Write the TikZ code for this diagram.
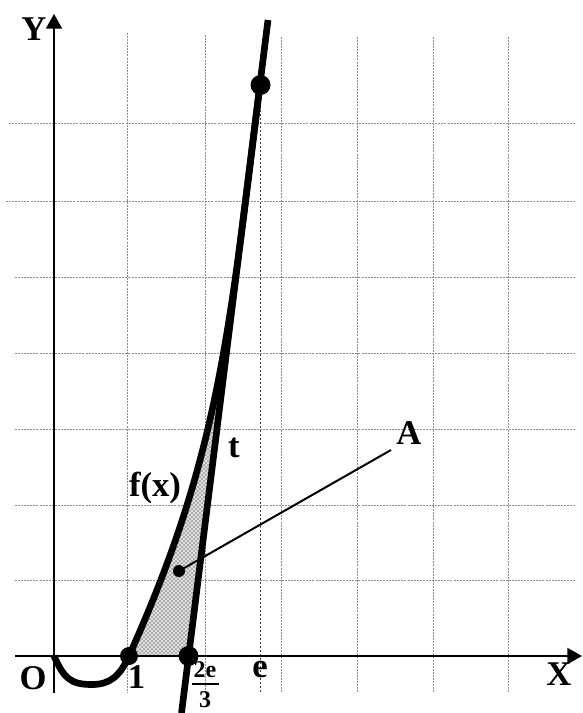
\documentclass[tikz,border=0pt]{standalone}
\usepackage{fontspec}
\setmainfont{Liberation Serif}
\usetikzlibrary{arrows.meta,patterns}
\begin{document}
\begin{tikzpicture}[x=0.75pt,y=-0.75pt,
  grid/.style={black!45,line width=0.6pt,dash pattern=on 1.5pt off 0.8pt},
  eline/.style={black!75,line width=0.7pt,dash pattern=on 1.8pt off 1.2pt},
  axis/.style={line width=1.5pt,-{Triangle[length=11pt,width=12pt]}},
  heavy/.style={line width=5pt},
  bigdot/.style={circle,fill=black,inner sep=0pt,minimum size=15pt},
  middot/.style={circle,fill=black,inner sep=0pt,minimum size=13.5pt},
  smalldot/.style={circle,fill=black,inner sep=0pt,minimum size=9pt},
  lbl/.style={font=\fontsize{26}{30}\selectfont\bfseries,inner sep=0pt},
  fraclbl/.style={font=\fontsize{18}{21}\selectfont\bfseries,inner sep=0pt},
  shade/.style={pattern=crosshatch dots,pattern color=black},
]
\useasboundingbox (0,0) rectangle (582,713);

% grid
\foreach \x/\t in {127/33,205/35,281/37,357/37,433/37,508/37}
  \draw[grid] (\x,\t) -- (\x,693);
\foreach \y/\s in {123/9,201/6,277/15,353/15,429/15,505/15,580/15}
  \draw[grid] (\s,\y) -- (576,\y);

% key points
\coordinate (Oc) at (54,656);
\coordinate (bot) at (92,684.5);
\coordinate (c1) at (129,656);
\coordinate (ct) at (260,85);
\coordinate (c2) at (188.5,656);

% shaded region A
\fill[black!12] (c1) .. controls (219,456) and (228.8,335) .. (ct) -- (c2) -- cycle;
\fill[shade] (c1) .. controls (219,456) and (228.8,335) .. (ct) -- (c2) -- cycle;

% dashed line at x = e
\coordinate (ebot) at (260,693);
\coordinate (etop) at (260,90);
\draw[eline] (etop) -- (ebot);

% axes
\coordinate (ybot) at (54,693);
\coordinate (ytop) at (54,14);
\coordinate (xleft) at (15,656);
\coordinate (xright) at (582,656);
\draw[axis] (ybot) -- (ytop);
\draw[axis] (xleft) -- (xright);

% curve f(x)
\draw[heavy,line join=round] (Oc) .. controls (64,678) and (70,684.5) .. (bot)
  .. controls (110,684.5) and (120,676) .. (c1)
  .. controls (219,456) and (228.8,335) .. (ct);

% tangent t
\coordinate (tb) at (181.5,713);
\coordinate (tt) at (268,20);
\draw[heavy] (tb) -- (tt);

% points
\node[bigdot] (T) at (260.5,85) {};
\node[middot] (P1) at (c1) {};
\node[bigdot] (P2) at (c2) {};
\node[smalldot] (Ad) at (179,571) {};

% label A and its pointer
\node[lbl] (A) at (409,433) {A};
\coordinate (Aend) at (391,450);
\draw[line width=1.5pt] (Ad.center) -- (Aend);

% labels
\node[lbl] (Y) at (34,29) {Y};
\node[lbl] (X) at (559,674) {X};
\node[lbl] (O) at (33,678) {O};
\node[lbl] (one) at (136.5,677) {1};
\node[lbl] (e) at (260,670) {e};
\node[lbl] (t) at (234,448) {t};
\node[lbl] (f) at (155,488) {f(x)};
\node[fraclbl] (num) at (205,669.5) {2e};
\node[fraclbl] (den) at (205,699.5) {3};
\coordinate (barl) at (192,684);
\coordinate (barr) at (218.5,684);
\draw[line width=1.6pt] (barl) -- (barr);
\end{tikzpicture}
\end{document}
